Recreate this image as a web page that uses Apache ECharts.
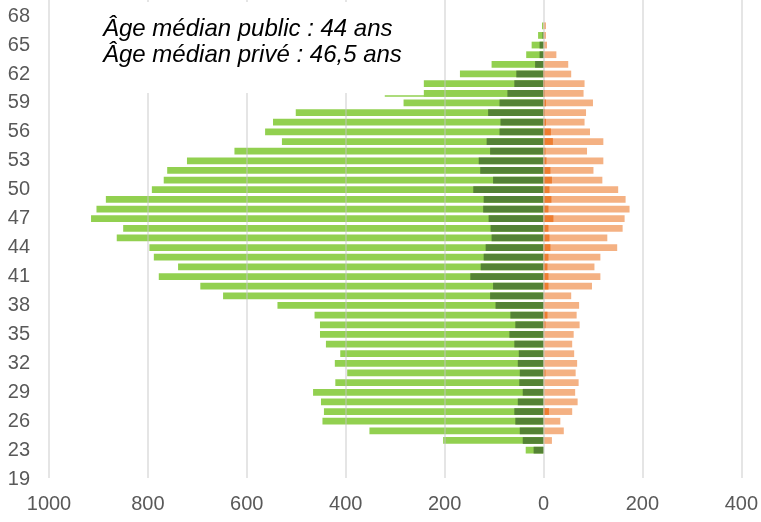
<!DOCTYPE html>
<html>
<head>
<meta charset="utf-8">
<script src="https://cdn.jsdelivr.net/npm/echarts@6/dist/echarts.min.js"></script>
<style>
html,body{margin:0;padding:0;background:#fff;}
#chart{width:761px;height:522px;}
</style>
</head>
<body>
<div id="chart"></div>
<script>
// Age categories (bottom to top)
const ages = ['19','21','22','23','24','25','26','27','28','29','30','31','32','33','34','35','36','37','38','39','40','41','42','43','44','45','46','47','48','49','50','51','52','53','54','55','56','57','58','59','60','61','62','63','64','65','66','67','68'];
// Public sector (drawn to the left)
const publicLight = [0,0,0,36,203,352,447,444,450,466,421,397,422,411,440,452,452,463,538,648,694,778,739,788,797,863,850,915,904,885,792,768,761,721,625,529,563,547,501,283,242,242,169,105,35,24,11,3,0];
const publicDark = [0,0,0,20,42,48,57,59,52,42,49,48,52,50,59,69,57,67,97,108,102,148,127,121,117,105,107,111,122,121,142,102,128,131,108,115,89,87,112,89,73,59,55,17,8,8,2,0,0];
// Private sector (drawn to the right)
const privateLight = [0,0,0,0,17,41,34,58,69,64,71,65,68,62,58,61,73,67,72,56,98,115,103,115,149,129,160,164,174,166,151,119,101,121,88,121,94,83,86,100,81,83,56,50,26,7,5,5,0];
const privateDark = [0,0,0,0,0,0,0,11,0,0,0,4,0,0,0,0,4,8,0,0,10,10,8,10,14,12,10,20,10,16,12,17,14,6,4,19,15,5,3,5,3,3,2,0,0,0,0,0,0];
// Thin extra public segment
const extraAges = ['60'];
const extraValues = [321];
// X ticks
const xMin = -1000, xMax = 400, xStep = 200;
const noteLines = ['Âge médian public : 44 ans', 'Âge médian privé : 46,5 ans'];

const FONT = "'Liberation Sans', Arial, sans-serif";
const chart = echarts.init(document.getElementById('chart'), null, {renderer:'canvas'});

const option = {
  animation: false,
  backgroundColor: '#ffffff',
  grid: [
    {left: 49, right: 19, top: 11.3, bottom: 38.1},
    {left: 49, right: 19, top: 0, bottom: 44}
  ],
  xAxis: [
    {
      gridIndex: 0, type: 'value', min: xMin, max: xMax, interval: xStep,
      axisLine: {show: false}, axisTick: {show: false}, splitLine: {show: false},
      axisLabel: {
        color: '#595959', fontSize: 20, fontFamily: FONT, margin: 11,
        formatter: v => String(Math.abs(v))
      }
    },
    {
      gridIndex: 1, type: 'value', min: xMin, max: xMax, interval: xStep, z: 4,
      axisLine: {show: false}, axisTick: {show: false}, axisLabel: {show: false},
      splitLine: {show: true, lineStyle: {color: 'rgba(196,196,196,0.6)', width: 1.5}}
    }
  ],
  yAxis: [
    {
      gridIndex: 0, type: 'category', data: ages,
      axisLine: {show: false}, axisTick: {show: false},
      axisLabel: {interval: 2, color: '#595959', fontSize: 20, fontFamily: FONT, margin: 19},
      splitLine: {show: false}
    },
    {
      gridIndex: 1, type: 'value', show: false, splitLine: {show: false}
    }
  ],
  series: [
    {
      type: 'custom', xAxisIndex: 0, yAxisIndex: 0, z: 1,
      data: extraAges.map((a, i) => [-extraValues[i], a]),
      renderItem: function (params, api) {
        const cat = api.value(1);
        const p0 = api.coord([api.value(0), cat]);
        const p1 = api.coord([0, cat]);
        const band = api.size([0, 1])[1];
        return {
          type: 'rect',
          shape: {x: p0[0], y: p0[1] + band * 0.2, width: p1[0] - p0[0], height: 1.6},
          style: {fill: '#92D050'}
        };
      }
    },
    {
      name: 'Public', type: 'bar', xAxisIndex: 0, yAxisIndex: 0, z: 2,
      data: publicLight.map(v => -v), barWidth: '70%', barGap: '-100%',
      itemStyle: {color: '#92D050'}
    },
    {
      name: 'Privé', type: 'bar', xAxisIndex: 0, yAxisIndex: 0, z: 2,
      data: privateLight, barWidth: '70%', barGap: '-100%',
      itemStyle: {color: '#F4B183'}
    },
    {
      name: 'Public (dont)', type: 'bar', xAxisIndex: 0, yAxisIndex: 0, z: 3,
      data: publicDark.map(v => -v), barWidth: '70%', barGap: '-100%',
      itemStyle: {color: '#548235'}
    },
    {
      name: 'Privé (dont)', type: 'bar', xAxisIndex: 0, yAxisIndex: 0, z: 3,
      data: privateDark, barWidth: '70%', barGap: '-100%',
      itemStyle: {color: '#ED7D31'}
    }
  ],
  graphic: [
    {
      type: 'rect', left: 60, top: 2, z: 10,
      shape: {width: 358, height: 91},
      style: {fill: '#ffffff'}
    },
    {
      type: 'text', left: 103, top: 17, z: 11,
      style: {text: noteLines[0], font: 'italic 24px ' + FONT, fill: '#000000'}
    },
    {
      type: 'text', left: 103, top: 43, z: 11,
      style: {text: noteLines[1], font: 'italic 24px ' + FONT, fill: '#000000'}
    }
  ]
};
chart.setOption(option);
</script>
</body>
</html>
